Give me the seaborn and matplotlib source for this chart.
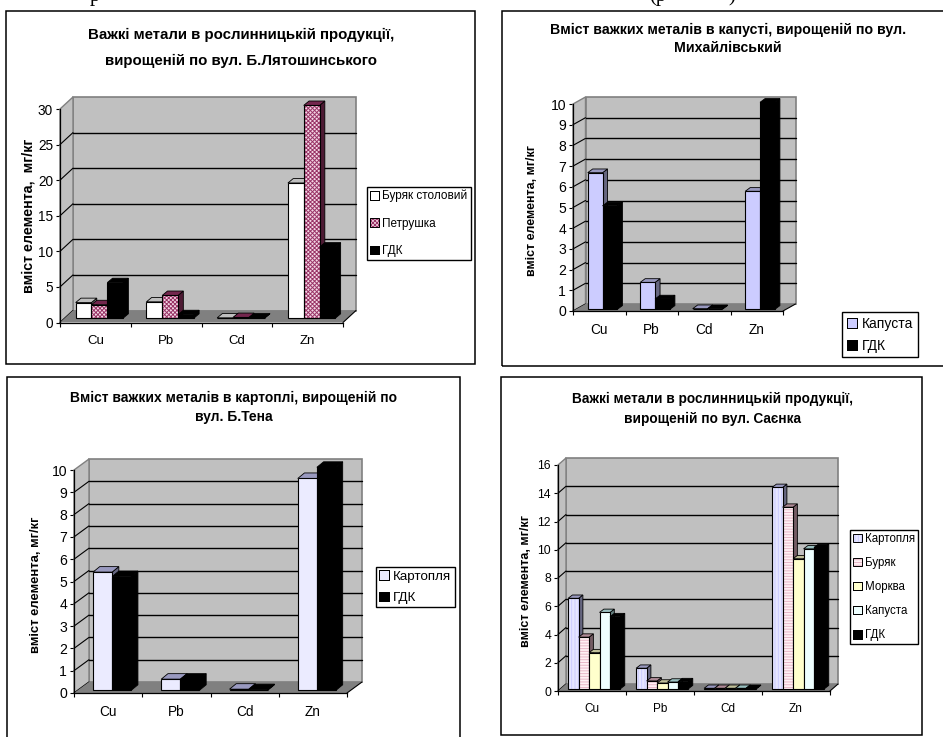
import numpy as np
import pandas as pd
import seaborn as sns
import matplotlib
matplotlib.use("Agg")
import matplotlib.pyplot as plt
from matplotlib.patches import Patch, Polygon, Rectangle
from matplotlib.transforms import Affine2D, IdentityTransform

W, H = 943, 737

metals = ["Cu", "Pb", "Cd", "Zn"]

# top left chart
crops_1 = ["Буряк столовий", "Петрушка", "ГДК"]
beet_1 = [2.2, 2.3, 0.05, 19.0]
parsley_1 = [1.9, 3.2, 0.1, 29.9]
limit_1 = [5.0, 0.5, 0.03, 10.0]

# top right chart
crops_2 = ["Капуста", "ГДК"]
cabbage_2 = [6.6, 1.3, 0.03, 5.7]
limit_2 = [5.0, 0.5, 0.03, 10.0]

# bottom left chart
crops_3 = ["Картопля", "ГДК"]
potato_3 = [5.3, 0.5, 0.05, 9.5]
limit_3 = [5.1, 0.5, 0.03, 10.0]

# bottom right chart
crops_4 = ["Картопля", "Буряк", "Морква", "Капуста", "ГДК"]
potato_4 = [6.4, 1.45, 0.03, 14.25]
beet_4 = [3.65, 0.55, 0.03, 12.85]
carrot_4 = [2.55, 0.4, 0.03, 9.2]
cabbage_4 = [5.4, 0.47, 0.03, 9.9]
limit_4 = [5.1, 0.5, 0.03, 10.0]

sns.set_theme(style="white")
plt.rcParams["font.family"] = ["Liberation Sans", "DejaVu Sans"]
plt.rcParams["hatch.linewidth"] = 0.7

fig = plt.figure(figsize=(W / 100, H / 100), dpi=100, facecolor="white")
px = IdentityTransform()


def side_colour(c, k):
    r, g, b = matplotlib.colors.to_rgb(c)
    return (r * k, g * k, b * k)


def chart(crops, values, colours, hatches, ink, box, rect, depth, shift, bar_depth,
          width, ymax, ystep, title, tsize, tpos, label, lpos, lsize, legpos, legsize,
          legspace):
    left, top, right, bottom = rect
    dx, dy = depth
    ax = fig.add_axes([left / W, 1 - bottom / H, (right - left) / W, (bottom - top) / H])
    ax.patch.set_visible(False)

    fig.add_artist(Rectangle((box[0], H - box[3]), box[2] - box[0], box[3] - box[1],
                             transform=px, fill=False, ec="black", lw=1.1))

    df = pd.DataFrame({"metal": metals * len(crops),
                       "crop": np.repeat(crops, 4),
                       "value": np.concatenate(values)})
    sns.barplot(data=df, x="metal", y="value", hue="crop", hue_order=crops,
                palette=colours, width=width, gap=0, saturation=1, legend=False, ax=ax)
    ax.set_xlim(-0.5, 3.5)
    ax.set_ylim(0, ymax)
    ax.set_xlabel("")
    ax.set_ylabel("")

    to_px = ax.transData.transform
    x0, y0 = to_px((-0.5, 0))
    x1, y1 = to_px((3.5, ymax))
    x2, _ = to_px((3.5, 0))

    def poly(pts, fc, ec, z, lw=0.8):
        ax.add_patch(Polygon(pts, closed=True, transform=px, fc=fc, ec=ec, lw=lw,
                             zorder=z, clip_on=False))

    # back wall, side wall and floor of the 3d box
    poly([(x0 + dx, y0 + dy), (x2 + dx, y0 + dy), (x2 + dx, y1 + dy), (x0 + dx, y1 + dy)],
         "#c0c0c0", "#808080", 0.5, 1.2)
    poly([(x0, y0), (x0 + dx, y0 + dy), (x0 + dx, y1 + dy), (x0, y1)],
         "#c0c0c0", "#808080", 0.6, 1.0)
    ticks = np.arange(0, ymax + ystep, ystep)
    for v in ticks[:-1]:
        _, yv = to_px((0, v))
        ax.plot([x0, x0 + dx], [yv, yv + dy], color="black", lw=0.8, transform=px,
                zorder=0.7, clip_on=False)
        if v > 0:
            ax.plot([x0 + dx, x2 + dx], [yv + dy, yv + dy], color="black", lw=1.0,
                    transform=px, zorder=0.7, clip_on=False)
    poly([(x0, y0), (x2, y0), (x2 + dx, y0 + dy), (x0 + dx, y0 + dy)], "#808080", "none", 0.8)
    ax.plot([x2, x2 + dx], [y0, y0 + dy], color="black", lw=0.8, transform=px,
            zorder=0.9, clip_on=False)

    # bars: move the seaborn bars into the box and add their top and side faces
    sx, sy = shift
    bx, by = bar_depth
    for h, cont in enumerate(ax.containers):
        for b_i, bar in enumerate(cont):
            z = 3 + b_i + h * 0.01
            bbox = bar.get_window_extent()
            xa, xb = bbox.x0 + sx, bbox.x1 + sx
            ya, yb = bbox.y0 + sy, bbox.y1 + sy
            bar.set_transform(ax.transData + Affine2D().translate(sx, sy))
            bar.set_clip_on(False)
            bar.set_zorder(z + 0.002)
            bar.set_linewidth(0)
            if hatches[h]:
                bar.set_hatch(hatches[h])
                bar.set_edgecolor(ink[h])
            edge = "black"
            poly([(xb, ya), (xb + bx, ya + by), (xb + bx, yb + by), (xb, yb)],
                 side_colour(ink[h], 0.5), edge, z, 0.6)
            poly([(xa, yb), (xb, yb), (xb + bx, yb + by), (xa + bx, yb + by)],
                 side_colour(ink[h], 0.75), edge, z + 0.001, 0.6)
            poly([(xa, ya), (xb, ya), (xb, yb), (xa, yb)], "none", edge, z + 0.003, 0.8)

    # axes
    sns.despine(ax=ax)
    for s in ("left", "bottom"):
        ax.spines[s].set_color("black")
        ax.spines[s].set_linewidth(0.9)
        ax.spines[s].set_zorder(2.5)
    ax.set_yticks(ticks)
    ax.set_xticks(np.arange(-0.5, 4), minor=True)
    ax.tick_params(axis="x", which="major", length=0, pad=9, labelsize=lsize, colors="black")
    ax.tick_params(axis="x", which="minor", bottom=True, length=3, width=0.8, color="black")
    ax.tick_params(axis="y", left=True, length=3, width=0.8, pad=2, labelsize=lsize + 0.3,
                   colors="black")

    # title and axis label
    for line, yt in zip(title, tpos[1:]):
        fig.text(tpos[0] / W, 1 - yt / H, line, ha="center", va="center", weight="bold",
                 fontsize=tsize, color="black")
    fig.text(lpos[0] / W, 1 - lpos[1] / H, label, rotation=90, ha="center", va="center",
             weight="bold", fontsize=lpos[2], color="black")

    # legend
    handles = []
    for h, name in enumerate(crops):
        handles.append(Patch(facecolor=colours[name], hatch=hatches[h],
                             edgecolor=ink[h] if hatches[h] else "black", lw=0.7,
                             label=name))
    leg = ax.legend(handles=handles, loc="upper left", bbox_to_anchor=(legpos[0] / W, 1 - legpos[1] / H),
                    bbox_transform=fig.transFigure, borderaxespad=0, frameon=True, fancybox=False,
                    framealpha=1, edgecolor="black", fontsize=legsize, handlelength=0.75,
                    handleheight=0.75, handletextpad=0.3, borderpad=legspace[1],
                    labelspacing=legspace[0])
    leg.get_frame().set_linewidth(1.0)
    leg.set_zorder(20)
    for t in leg.get_texts():
        t.set_color("black")
    # black outline round the hatched swatches
    fig.canvas.draw()
    for s in leg.get_patches():
        e = s.get_window_extent()
        fig.add_artist(Rectangle((e.x0, e.y0), e.width, e.height, transform=px, fill=False,
                                 ec="black", lw=0.7, zorder=25))
    return ax


chart(crops_1, [beet_1, parsley_1, limit_1],
      {"Буряк столовий": "#ffffff", "Петрушка": "#f3d6e4", "ГДК": "#000000"},
      [None, "xxxxxxxx", None], ["#ffffff", "#993366", "#000000"],
      (5.5, 11, 475, 364), (60, 109, 343, 322.5), (13, 12), (4, 4.3), (5.3, 4.4),
      0.67, 30, 5,
      ["Важкі метали в рослинницькій продукції,", "вирощеній по вул. Б.Лятошинського"],
      10.8, (241, 35, 61), "вміст елемента,  мг/кг", (29, 216, 10.3), 9.5,
      (367, 187), 8.5, (1.3, 0.25))

chart(crops_2, [cabbage_2, limit_2],
      {"Капуста": "#ccccff", "ГДК": "#000000"},
      [None, None], ["#ccccff", "#000000"],
      (502, 11, 960, 366), (573, 104, 783, 311), (12.5, 7), (3.3, 1.7), (5, 3.7),
      0.566, 10, 1,
      ["Вміст важких металів в капусті, вирощеній по вул.", "Михайлівський"],
      10.2, (728, 30, 48), "вміст елемента, мг/кг", (532, 210, 8.9), 9.8,
      (842, 312), 10, (0.55, 0.35))

chart(crops_3, [potato_3, limit_3],
      {"Картопля": "#ebebff", "ГДК": "#000000"},
      [None, None], ["#ccccff", "#000000"],
      (7, 377, 460, 750), (74, 470, 347, 693), (15, 11), (4, 2.7), (6.7, 5.5),
      0.56, 10, 1,
      ["Вміст важких металів в картоплі, вирощеній по", "вул. Б.Тена"],
      10, (234, 398, 417), "вміст елемента, мг/кг", (36, 585, 9.4), 9.8,
      (376, 567), 9.6, (0.65, 0.25))

chart(crops_4, [potato_4, beet_4, carrot_4, cabbage_4, limit_4],
      {"Картопля": "#e6e6ff", "Буряк": "#fff0f4", "Морква": "#ffffcc", "Капуста": "#eeffff",
       "ГДК": "#000000"},
      ["|||||", "------", None, None, None],
      ["#ccccff", "#e8b8c8", "#ffffcc", "#ccffff", "#000000"],
      (501, 377, 922, 735), (558, 465, 830, 691), (8, 7), (2.3, 2.3), (4.3, 3.3),
      0.77, 16, 2,
      ["Важкі метали в рослинницькій продукції,", "вирощеній по вул. Саєнка"],
      9.85, (712, 399, 419), "вміст елемента, мг/кг", (526, 581, 9.0), 8.5,
      (850, 530), 8.3, (1.05, 0.25))

# bits of the page text that run off the top edge, cut off in the reference as well
for xt, piece in [(95, "р"), (658, "(р"), (732, ")")]:
    fig.text(xt / W, 1 - 1 / H, piece, ha="center", va="baseline", family="Liberation Serif",
             fontsize=15, color="black")

fig.savefig("out.png", dpi=100)
